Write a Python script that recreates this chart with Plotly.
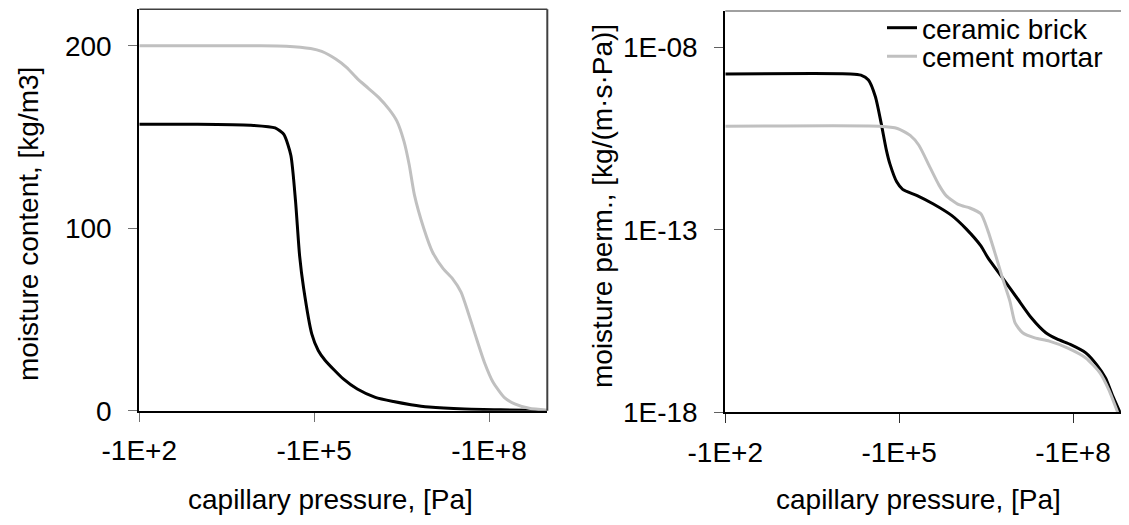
import plotly.graph_objects as go

# ---------------- data ----------------
# x values are log10(-pc), pc = capillary pressure [Pa] (negative)
brick_w_logpc = [2.0, 3.0, 3.9, 4.33, 4.48, 4.60, 4.68, 4.75, 4.82, 4.96, 5.07, 5.19,
                 5.50, 5.74, 6.05, 6.36, 6.66, 6.97, 7.58, 8.20, 9.0]
brick_w = [157, 157, 156.5, 155, 151.4, 140, 115, 85, 67, 42, 33, 27.5,
           17.4, 11.9, 7.3, 5.0, 3.3, 2.0, 0.9, 0.5, 0.1]

mortar_w_logpc = [2.0, 4.0, 4.52, 4.94, 5.13, 5.37, 5.56, 5.74, 5.93, 6.11, 6.29, 6.42,
                  6.54, 6.63, 6.72, 6.88, 7.03, 7.21, 7.37, 7.52, 7.64, 7.77, 7.92,
                  8.07, 8.26, 8.44, 8.69, 9.0]
mortar_w = [200, 200, 199.8, 198.5, 196.9, 192.7, 188, 182, 176.7, 171.6, 165, 158.7,
            147.7, 134.9, 118.3, 100, 87, 78, 72.5, 65, 54, 41, 26.6,
            15.6, 7.3, 3.7, 1.3, 0.2]

# permeability: log10 of K [kg/(m.s.Pa)]
brick_k_logpc = [2.0, 4.16, 4.34, 4.47, 4.59, 4.69, 4.78, 4.84, 4.96, 5.06, 5.31, 5.59,
                 5.91, 6.16, 6.41, 6.53, 6.78, 7.03, 7.28, 7.53, 7.72, 7.97, 8.22,
                 8.41, 8.56, 8.69, 8.81]
brick_k_log = [-8.725, -8.725, -8.76, -8.89, -9.35, -10.08, -10.82, -11.19, -11.69, -11.89,
               -12.06, -12.29, -12.61, -12.98, -13.44, -13.76, -14.31, -14.86, -15.41,
               -15.82, -15.99, -16.15, -16.37, -16.70, -17.06, -17.57, -18.0]

mortar_k_logpc = [2.0, 4.66, 4.97, 5.19, 5.34, 5.53, 5.69, 5.81, 6.03, 6.22, 6.41, 6.53,
                  6.66, 6.78, 6.91, 7.00, 7.13, 7.34, 7.59, 7.91, 8.22, 8.47, 8.62, 8.77]
mortar_k_log = [-10.16, -10.16, -10.22, -10.41, -10.68, -11.28, -11.78, -12.06, -12.31,
                -12.40, -12.56, -13.02, -13.67, -14.31, -14.95, -15.55, -15.82, -15.96,
                -16.05, -16.24, -16.51, -16.93, -17.39, -18.0]

series_names = ["ceramic brick", "cement mortar"]
x_tick_vals = [1e2, 1e5, 1e8]
x_tick_text = ["-1E+2", "-1E+5", "-1E+8"]
y1_tick_vals = [0, 100, 200]
y2_tick_vals = [1e-18, 1e-13, 1e-8]
y2_tick_text = ["1E-18", "1E-13", "1E-08"]

x_title = "capillary pressure, [Pa]"
y1_title = "moisture content, [kg/m3]"
y2_title = "moisture perm., [kg/(m·s·Pa)]"

# ---------------- figure ----------------
W, H = 1129, 525
OFF = 8  # default page (body) margin of the html page
FONT = "Liberation Sans, Arial, sans-serif"
FS = 28
BLACK = "#000000"
GRAY = "#c0c0c0"


def mag(logs):
    return [10 ** v for v in logs]


fig = go.Figure()
line_kw = dict(shape="spline", smoothing=0.6, width=3)

fig.add_trace(go.Scatter(x=mag(brick_w_logpc), y=brick_w, mode="lines",
                         line=dict(color=BLACK, **line_kw), showlegend=False,
                         xaxis="x", yaxis="y"))
fig.add_trace(go.Scatter(x=mag(mortar_w_logpc), y=mortar_w, mode="lines",
                         line=dict(color=GRAY, **line_kw), showlegend=False,
                         xaxis="x", yaxis="y"))
fig.add_trace(go.Scatter(x=mag(brick_k_logpc), y=mag(brick_k_log), mode="lines",
                         name=series_names[0], line=dict(color=BLACK, **line_kw),
                         xaxis="x2", yaxis="y2", legend="legend"))
fig.add_trace(go.Scatter(x=mag(mortar_k_logpc), y=mag(mortar_k_log), mode="lines",
                         name=series_names[1], line=dict(color=GRAY, **line_kw),
                         xaxis="x2", yaxis="y2", legend="legend2"))


# screen pixel geometry -> paper fractions
def px(x):
    return (x - OFF) / W


def py(y):
    return 1 - (y - OFF) / H


axis_common = dict(showgrid=False, zeroline=False, ticks="outside", ticklen=9,
                   tickwidth=1, showline=True, linewidth=2, linecolor=BLACK,
                   automargin=False,
                   tickfont=dict(family=FONT, size=FS, color=BLACK))

fig.update_layout(
    width=W, height=H,
    margin=dict(l=0, r=0, t=0, b=0, autoexpand=False),
    paper_bgcolor="white", plot_bgcolor="white",
    font=dict(family=FONT, size=FS, color=BLACK),
    xaxis=dict(type="log", range=[2, 9], domain=[px(139.3), px(547.3)],
               tickvals=x_tick_vals, ticktext=x_tick_text, tickcolor="#707070",
               ticklabelstandoff=5, anchor="y", **axis_common),
    yaxis=dict(range=[0, 220], domain=[py(410.7), py(9.3)],
               tickvals=y1_tick_vals, tickcolor="#707070",
               ticklabelstandoff=11, anchor="x", **axis_common),
    xaxis2=dict(type="log", range=[2, 9], domain=[px(725.3), px(1131)],
                tickvals=x_tick_vals, ticktext=x_tick_text, tickcolor="#303030",
                ticklabelstandoff=5, anchor="y2", **axis_common),
    yaxis2=dict(type="log", range=[-18, -7], domain=[py(412.3), py(11)],
                tickvals=y2_tick_vals, ticktext=y2_tick_text, tickcolor="#606060",
                ticklabelstandoff=11, anchor="x2", **axis_common),
    legend=dict(x=px(882), y=py(28), xanchor="left", yanchor="middle",
                bgcolor="rgba(0,0,0,0)", font=dict(family=FONT, size=FS)),
    legend2=dict(x=px(882), y=py(56.5), xanchor="left", yanchor="middle",
                 bgcolor="rgba(0,0,0,0)", font=dict(family=FONT, size=FS)),
)

# plot-area frame lines (top / right)
fig.add_shape(type="line", xref="x domain", yref="y domain", x0=0, x1=1, y0=1, y1=1,
              line=dict(color="#404040", width=1.5))
fig.add_shape(type="line", xref="x domain", yref="y domain", x0=1, x1=1, y0=0, y1=1,
              line=dict(color="#404040", width=2))
fig.add_shape(type="line", xref="x2 domain", yref="y2 domain", x0=0, x1=1, y0=1, y1=1,
              line=dict(color="#808080", width=1.5))

# axis titles
ann = dict(xref="paper", yref="paper", showarrow=False,
           font=dict(family=FONT, size=FS, color=BLACK), xanchor="center", yanchor="middle")
fig.add_annotation(text=x_title, x=px(330), y=py(499), **ann)
fig.add_annotation(text=x_title, x=px(918), y=py(499), **ann)
fig.add_annotation(text=y1_title, x=px(28), y=py(224), textangle=-90, **ann)
fig.add_annotation(text=y2_title, x=px(602), y=py(206), textangle=-90, **ann)

fig.write_html("out.html")
